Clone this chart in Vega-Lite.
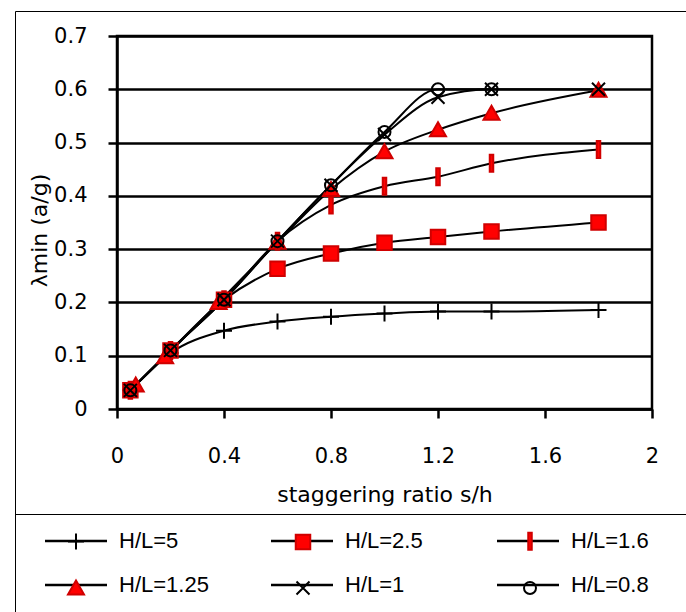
{
  "$schema": "https://vega.github.io/schema/vega-lite/v6.json",
  "width": 535,
  "height": 373,
  "autosize": {"type": "none"},
  "padding": {"left": 117, "top": 36, "right": 34, "bottom": 203},
  "background": "white",
  "config": {
    "font": "DejaVu Sans",
    "view": {"stroke": "black", "strokeWidth": 2.5},
    "axis": {
      "domainColor": "black",
      "domainWidth": 2.5,
      "tickColor": "black",
      "tickWidth": 2.5,
      "tickSize": 9,
      "labelColor": "black",
      "labelFont": "DejaVu Sans",
      "labelFontSize": 21,
      "labelOverlap": false,
      "labelFlush": false,
      "titleColor": "black",
      "titleFont": "DejaVu Sans",
      "titleFontSize": 22,
      "titleFontWeight": "normal"
    }
  },
  "data": {
    "values": [
      {"series": "H/L=5", "x": 0.05, "y": 0.035},
      {"series": "H/L=5", "x": 0.2, "y": 0.105},
      {"series": "H/L=5", "x": 0.4, "y": 0.147},
      {"series": "H/L=5", "x": 0.6, "y": 0.164},
      {"series": "H/L=5", "x": 0.8, "y": 0.173},
      {"series": "H/L=5", "x": 1.0, "y": 0.179},
      {"series": "H/L=5", "x": 1.2, "y": 0.183},
      {"series": "H/L=5", "x": 1.4, "y": 0.183},
      {"series": "H/L=5", "x": 1.8, "y": 0.186},
      {"series": "H/L=2.5", "x": 0.05, "y": 0.035},
      {"series": "H/L=2.5", "x": 0.2, "y": 0.11},
      {"series": "H/L=2.5", "x": 0.4, "y": 0.205},
      {"series": "H/L=2.5", "x": 0.6, "y": 0.263},
      {"series": "H/L=2.5", "x": 0.8, "y": 0.292},
      {"series": "H/L=2.5", "x": 1.0, "y": 0.312},
      {"series": "H/L=2.5", "x": 1.2, "y": 0.323},
      {"series": "H/L=2.5", "x": 1.4, "y": 0.333},
      {"series": "H/L=2.5", "x": 1.8, "y": 0.35},
      {"series": "H/L=1.6", "x": 0.05, "y": 0.035},
      {"series": "H/L=1.6", "x": 0.2, "y": 0.11},
      {"series": "H/L=1.6", "x": 0.4, "y": 0.205},
      {"series": "H/L=1.6", "x": 0.6, "y": 0.315},
      {"series": "H/L=1.6", "x": 0.8, "y": 0.383},
      {"series": "H/L=1.6", "x": 1.0, "y": 0.418},
      {"series": "H/L=1.6", "x": 1.2, "y": 0.436},
      {"series": "H/L=1.6", "x": 1.4, "y": 0.461},
      {"series": "H/L=1.6", "x": 1.8, "y": 0.487},
      {"series": "H/L=1.25", "x": 0.07, "y": 0.045},
      {"series": "H/L=1.25", "x": 0.18, "y": 0.098},
      {"series": "H/L=1.25", "x": 0.38, "y": 0.2},
      {"series": "H/L=1.25", "x": 0.6, "y": 0.313},
      {"series": "H/L=1.25", "x": 0.8, "y": 0.412},
      {"series": "H/L=1.25", "x": 1.0, "y": 0.483},
      {"series": "H/L=1.25", "x": 1.2, "y": 0.524},
      {"series": "H/L=1.25", "x": 1.4, "y": 0.555},
      {"series": "H/L=1.25", "x": 1.8, "y": 0.598},
      {"series": "H/L=1", "x": 0.05, "y": 0.035},
      {"series": "H/L=1", "x": 0.2, "y": 0.11},
      {"series": "H/L=1", "x": 0.4, "y": 0.205},
      {"series": "H/L=1", "x": 0.6, "y": 0.315},
      {"series": "H/L=1", "x": 0.8, "y": 0.42},
      {"series": "H/L=1", "x": 1.0, "y": 0.515},
      {"series": "H/L=1", "x": 1.2, "y": 0.585},
      {"series": "H/L=1", "x": 1.4, "y": 0.6},
      {"series": "H/L=1", "x": 1.8, "y": 0.6},
      {"series": "H/L=0.8", "x": 0.05, "y": 0.035},
      {"series": "H/L=0.8", "x": 0.2, "y": 0.11},
      {"series": "H/L=0.8", "x": 0.4, "y": 0.205},
      {"series": "H/L=0.8", "x": 0.6, "y": 0.315},
      {"series": "H/L=0.8", "x": 0.8, "y": 0.42},
      {"series": "H/L=0.8", "x": 1.0, "y": 0.52},
      {"series": "H/L=0.8", "x": 1.2, "y": 0.6},
      {"series": "H/L=0.8", "x": 1.4, "y": 0.6}
    ]
  },
  "layer": [
    {
      "mark": {"type": "line", "interpolate": "monotone", "strokeWidth": 2},
      "encoding": {
        "x": {
          "field": "x", "type": "quantitative",
          "scale": {"domain": [0, 2], "nice": false},
          "axis": {
            "values": [0, 0.4, 0.8, 1.2, 1.6, 2],
            "format": "~g",
            "grid": false,
            "title": "staggering ratio s/h",
            "labelPadding": 27,
            "titleBaseline": "alphabetic",
            "titleY": 92
          }
        },
        "y": {
          "field": "y", "type": "quantitative",
          "scale": {"domain": [0, 0.7], "nice": false},
          "axis": {
            "values": [0, 0.1, 0.2, 0.3, 0.4, 0.5, 0.6, 0.7],
            "format": "~g",
            "grid": true,
            "gridColor": "black",
            "gridWidth": 2.5,
            "gridOpacity": 1,
            "title": "λmin (a/g)",
            "labelPadding": 21,
            "titlePadding": 2,
            "titleY": 194
          }
        },
        "color": {
          "field": "series", "type": "nominal",
          "scale": {
            "domain": ["H/L=5", "H/L=2.5", "H/L=1.6", "H/L=1.25", "H/L=1", "H/L=0.8"],
            "range": ["black", "black", "black", "black", "black", "black"]
          },
          "legend": {
            "orient": "none", "legendX": -52, "legendY": 494,
            "direction": "horizontal",
            "title": null, "columns": 3, "gridAlign": "all",
            "columnPadding": 57, "rowPadding": 22, "padding": 0,
            "symbolType": "M-6.2,0H6.2", "symbolSize": 100,
            "symbolStrokeWidth": 2.5, "symbolStrokeColor": "black",
            "labelFont": "Liberation Sans", "labelFontSize": 22,
            "labelOffset": 32, "labelColor": "black"
          }
        }
      }
    },
    {
      "mark": {"type": "point", "filled": true, "size": 100},
      "encoding": {
        "x": {"field": "x", "type": "quantitative"},
        "y": {"field": "y", "type": "quantitative"},
        "shape": {
          "field": "series", "type": "nominal", "sort": "descending",
          "scale": {
            "range": [
              "M-1.6,0H1.6M0,-1.6V1.6",
              "M-1.45,-1.45H1.45V1.45H-1.45Z",
              "M-0.35,-1.7H0.35V1.7H-0.35Z",
              "M0,-1.5L1.6,1.3H-1.6Z",
              "M-1.3,-1.3L1.3,1.3M-1.3,1.3L1.3,-1.3",
              "M1.2,0A1.2,1.2,0,1,1,-1.2,0A1.2,1.2,0,1,1,1.2,0Z"
            ]
          },
          "legend": {
            "orient": "none", "legendX": -52, "legendY": 494,
            "direction": "horizontal",
            "title": null, "columns": 3, "gridAlign": "all",
            "columnPadding": 82, "rowPadding": 22, "padding": 0,
            "symbolSize": 100, "symbolStrokeWidth": 2, "symbolOpacity": 1,
            "labelFont": "Liberation Sans", "labelFontSize": 22,
            "labelOffset": 32, "labelOpacity": 0
          }
        },
        "fill": {
          "field": "series", "type": "nominal", "sort": "descending",
          "scale": {"range": ["transparent", "#ff0000", "#ff0000", "#ff0000", "transparent", "transparent"]}
        },
        "stroke": {
          "field": "series", "type": "nominal", "sort": "descending",
          "scale": {"range": ["black", "#d00000", "#d00000", "#d00000", "black", "black"]}
        },
        "strokeWidth": {
          "field": "x", "type": "quantitative",
          "scale": {"range": [2, 2]},
          "legend": {
            "orient": "none", "legendX": -102, "legendY": -25,
            "title": null, "values": [0.5], "symbolSize": 640000,
            "symbolType": "square",
            "symbolFillColor": "transparent", "symbolStrokeColor": "transparent",
            "labelOpacity": 0,
            "padding": 0, "strokeColor": "black"
          }
        },
        "opacity": {
          "field": "y", "type": "quantitative",
          "scale": {"range": [1, 1]},
          "legend": {
            "orient": "none", "legendX": -102, "legendY": 478,
            "title": null, "values": [0.5], "symbolSize": 640000,
            "symbolType": "square",
            "symbolFillColor": "transparent", "symbolStrokeColor": "transparent",
            "labelOpacity": 0,
            "padding": 0, "strokeColor": "black"
          }
        }
      }
    }
  ]
}
